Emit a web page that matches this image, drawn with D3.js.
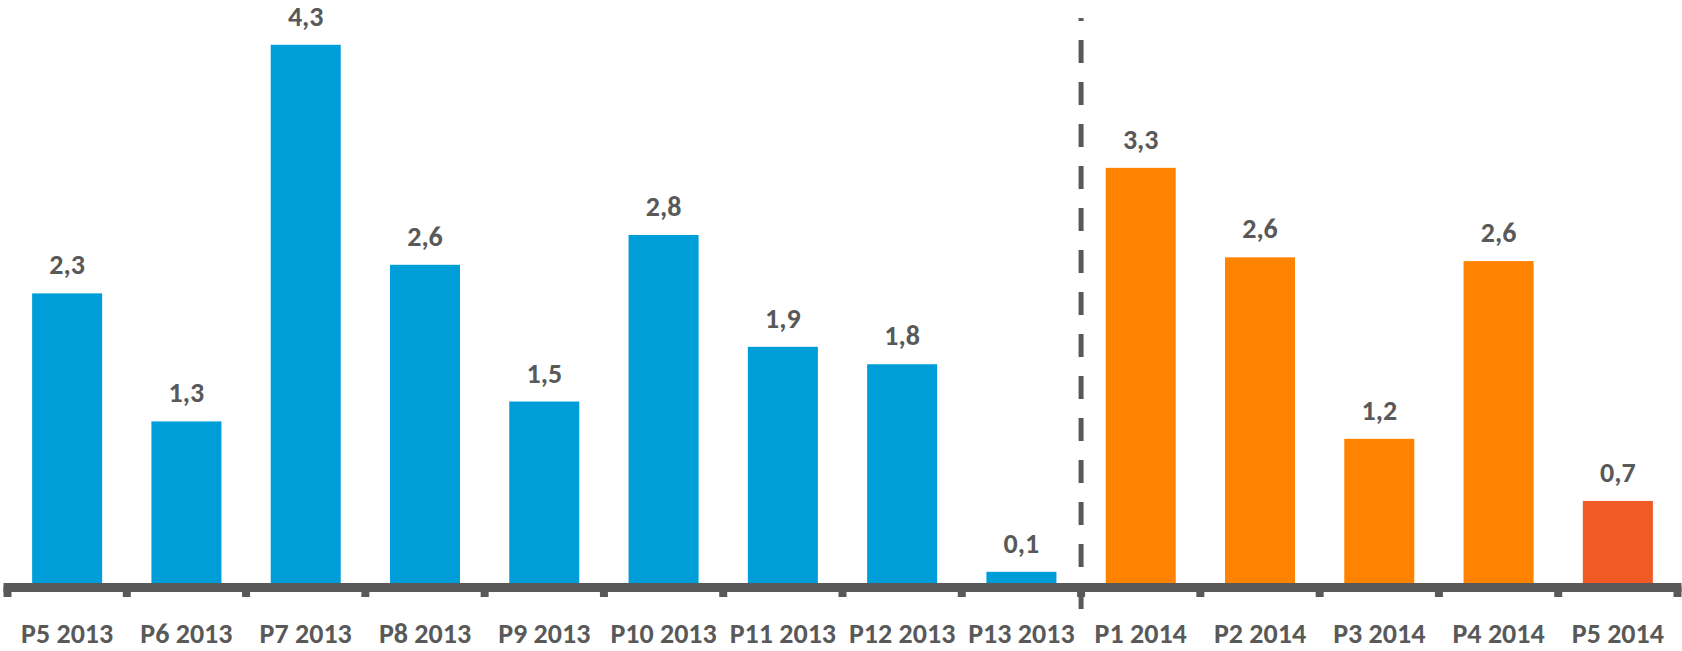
<!DOCTYPE html>
<html>
<head>
<meta charset="utf-8">
<script src="https://cdn.jsdelivr.net/npm/d3@7"></script>
<style>
  body { margin: 0; background: #fff; }
  text { font-family: Carlito, Calibri, Lato, "Open Sans", sans-serif; font-weight: bold; fill: #595959; }
</style>
</head>
<body>
<div id="chart"></div>
<script>
//Data
var periods = ["P5 2013", "P6 2013", "P7 2013", "P8 2013", "P9 2013", "P10 2013", "P11 2013",
               "P12 2013", "P13 2013", "P1 2014", "P2 2014", "P3 2014", "P4 2014", "P5 2014"];
var years = [2013, 2013, 2013, 2013, 2013, 2013, 2013, 2013, 2013, 2014, 2014, 2014, 2014, 2014];
var values = [2.33, 1.30, 4.33, 2.56, 1.46, 2.80, 1.90, 1.76, 0.09, 3.34, 2.62, 1.16, 2.59, 0.66];

//Sizes
var width = 1682, height = 651;
var baseY = 583;

var svg = d3.select("#chart").append("svg")
  .attr("width", width)
  .attr("height", height);

var x = d3.scaleBand()
  .domain(periods)
  .range([7.5, 1677.5])
  .paddingInner(0.413)
  .paddingOuter(0.2065);

var y = d3.scaleLinear()
  .domain([0, 4.5])
  .range([baseY, baseY - 4.5 * 124.3]);

function barColor(d, i) {
  if (i === periods.length - 1) return "#f05a24";
  return years[i] === 2013 ? "#009ed9" : "#ff8300";
}

//Bars
svg.append("g")
  .selectAll("rect")
  .data(values)
  .enter()
  .append("rect")
  .attr("x", function(d, i) { return x(periods[i]); })
  .attr("y", function(d) { return y(d); })
  .attr("width", x.bandwidth())
  .attr("height", function(d) { return y(0) - y(d); })
  .attr("fill", barColor);

//Value labels
svg.append("g")
  .selectAll("text")
  .data(values)
  .enter()
  .append("text")
  .attr("x", function(d, i) { return x(periods[i]) + x.bandwidth() / 2; })
  .attr("y", function(d) { return y(d) - 19; })
  .attr("text-anchor", "middle")
  .attr("font-size", 28)
  .text(function(d) { return d.toFixed(1).replace(".", ","); });

//Year separator (dashed)
var sepX = x.range()[0] + x.step() * years.indexOf(2014);
svg.append("line")
  .attr("x1", sepX).attr("x2", sepX)
  .attr("y1", 609).attr("y2", 18)
  .attr("stroke", "#595959")
  .attr("stroke-width", 5)
  .attr("stroke-dasharray", "23,19");

//Axis line + ticks between categories
svg.append("line")
  .attr("x1", 3.5).attr("x2", 1681.5)
  .attr("y1", 587.5).attr("y2", 587.5)
  .attr("stroke", "#595959")
  .attr("stroke-width", 9);

svg.append("g")
  .selectAll("line")
  .data(d3.range(periods.length + 1))
  .enter()
  .append("line")
  .attr("x1", function(i) { return x.range()[0] + i * x.step(); })
  .attr("x2", function(i) { return x.range()[0] + i * x.step(); })
  .attr("y1", 587)
  .attr("y2", 597)
  .attr("stroke", "#595959")
  .attr("stroke-width", 8);

//Category labels
svg.append("g")
  .selectAll("text")
  .data(periods)
  .enter()
  .append("text")
  .attr("x", function(d) { return x(d) + x.bandwidth() / 2; })
  .attr("y", 643)
  .attr("text-anchor", "middle")
  .attr("font-size", 28)
  .text(function(d) { return d; });
</script>
</body>
</html>
